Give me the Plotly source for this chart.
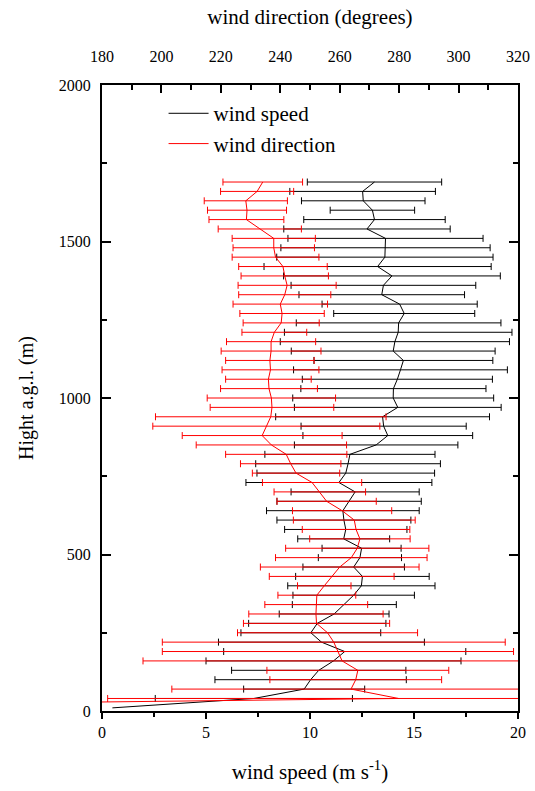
import plotly.graph_objects as go

# Heights (m a.g.l.)
heights = [10, 40, 70, 100, 130, 160, 190, 220, 250, 280, 310, 340, 370, 400, 430, 460, 490, 520,
           550, 580, 610, 640, 670, 700, 730, 760, 790, 820, 850, 880, 910, 940, 970, 1000, 1030,
           1060, 1090, 1120, 1150, 1180, 1210, 1240, 1270, 1300, 1330, 1360, 1390, 1420, 1450,
           1480, 1510, 1540, 1570, 1600, 1630, 1660, 1690]

# Wind speed (m/s) and its standard deviation
wind_speed = [0.5, 7.3, 9.72, 10.03, 10.42, 11.13, 11.67, 10.55, 10.04, 10.35, 11.16, 11.65, 12.1,
              12.47, 12.52, 12.1, 12.4, 12.48, 11.62, 11.72, 11.63, 11.58, 11.88, 12.17, 11.39,
              11.72, 11.83, 11.92, 13.18, 13.74, 13.54, 13.49, 14.22, 14.0, 14.01, 14.2, 14.35,
              14.49, 14.0, 14.08, 14.24, 14.26, 14.53, 14.31, 13.45, 13.53, 13.94, 13.25, 13.6,
              13.63, 13.63, 12.74, 13.1, 13.0, 12.56, 12.53, 13.1]
speed_err = [None, 4.74, 2.91, 4.6, 4.19, 6.13, 5.82, 4.95, 3.36, 3.3, 2.64, 2.5, 2.92, 3.54, 3.21,
             2.44, 2.0, 1.9, 2.21, 2.94, 3.22, 3.67, 3.47, 3.08, 4.47, 4.27, 4.44, 4.09, 3.93,
             4.08, 3.97, 5.14, 4.97, 4.83, 4.45, 4.57, 5.14, 4.3, 4.9, 5.51, 5.47, 4.92, 3.39,
             3.73, 3.98, 4.44, 5.21, 5.46, 5.2, 5.03, 4.69, 4.0, 3.4, 2.03, 2.97, 3.5, 3.23]

# Wind direction (degrees) and its standard deviation
wind_dir = [12, 279.8, 263.8, 265.4, 266.1, 260.8, 259.4, 258.0, 255.9, 252.2, 252.0, 252.1, 252.3,
            254.8, 257.3, 260.0, 263.9, 265.9, 266.8, 265.5, 264.9, 260.8, 255.6, 253.3, 250.7,
            245.3, 243.5, 242.0, 237.0, 233.9, 235.3, 236.8, 237.2, 237.0, 236.2, 236.0, 236.7,
            236.5, 236.9, 236.9, 238.0, 240.3, 240.6, 240.0, 241.5, 242.3, 241.5, 240.9, 238.4,
            237.8, 237.8, 233.1, 228.6, 228.8, 228.4, 232.2, 234.1]
dir_err = [None, 97.9, 60.3, 28.9, 30.6, 67.0, 59.1, 57.7, 30.3, 24.6, 22.6, 17.3, 13.1, 9.0, 21.0,
           26.7, 25.5, 24.1, 16.9, 18.1, 20.5, 16.7, 16.7, 15.4, 16.7, 14.7, 16.9, 20.4, 25.3,
           26.9, 38.2, 38.8, 20.8, 21.6, 16.3, 14.4, 16.3, 14.9, 16.8, 15.0, 10.9, 12.8, 14.2,
           15.9, 15.5, 16.5, 14.7, 14.9, 14.6, 13.7, 14.0, 14.0, 12.6, 13.3, 14.0, 12.3, 13.4]

speed_ticks = [0, 5, 10, 15, 20]
dir_ticks = [180, 200, 220, 240, 260, 280, 300, 320]
height_ticks = [0, 500, 1000, 1500, 2000]

FONT = "Liberation Serif"
fig = go.Figure()

# error bars (points with a measured spread only)
fig.add_trace(go.Scatter(
    x=wind_speed[1:], y=heights[1:], mode="markers", marker=dict(size=1, opacity=0, color="black"),
    error_x=dict(type="data", array=speed_err[1:], color="black", thickness=1, width=3.5),
    showlegend=False, hoverinfo="skip", xaxis="x", yaxis="y"))
fig.add_trace(go.Scatter(
    x=wind_dir[1:], y=heights[1:], mode="markers", marker=dict(size=1, opacity=0, color="red"),
    error_x=dict(type="data", array=dir_err[1:], color="red", thickness=1, width=3.5),
    showlegend=False, hoverinfo="skip", xaxis="x2", yaxis="y"))

# profile lines
fig.add_trace(go.Scatter(x=wind_speed, y=heights, mode="lines", name="wind speed",
                         line=dict(color="black", width=1), xaxis="x", yaxis="y"))
fig.add_trace(go.Scatter(x=wind_dir, y=heights, mode="lines", name="wind direction",
                         line=dict(color="red", width=1), xaxis="x2", yaxis="y"))

axis_common = dict(showgrid=False, zeroline=False, showline=True, linecolor="black", linewidth=2,
                   tickcolor="black", automargin=False,
                   tickfont=dict(family=FONT, size=16, color="black"))

fig.update_layout(
    width=535, height=791,
    margin=dict(l=102, r=17, t=85, b=80),
    paper_bgcolor="white", plot_bgcolor="white",
    font=dict(family=FONT, color="black"),
    xaxis=dict(range=[0, 20], tickvals=speed_ticks, ticks="outside", ticklen=6, tickwidth=1.5,
               minor=dict(dtick=2.5, ticks="outside", ticklen=4, tickwidth=1.5, tickcolor="black"),
               title=dict(text="wind speed (m s<sup>-1</sup>)", font=dict(family=FONT, size=21), standoff=24),
               **axis_common),
    xaxis2=dict(range=[180, 320], tickvals=dir_ticks, ticks="inside", ticklen=8, tickwidth=1.5,
                minor=dict(dtick=10, ticks="inside", ticklen=5, tickwidth=1.5, tickcolor="black"),
                side="top", overlaying="x", anchor="y", ticklabelstandoff=15,
                ticklabeloverflow="allow",
                title=dict(text="wind direction (degrees)", font=dict(family=FONT, size=21), standoff=17),
                **axis_common),
    yaxis=dict(range=[0, 2000], tickvals=height_ticks, ticks="inside", ticklen=9, tickwidth=1.5,
               mirror="ticks", ticklabelstandoff=6,
               minor=dict(dtick=250, ticks="inside", ticklen=5, tickwidth=1.5, tickcolor="black"),
               title=dict(text="Hight a.g.l. (m)", font=dict(family=FONT, size=20), standoff=20),
               **axis_common),
    legend=dict(x=0.148, y=0.987, xanchor="left", yanchor="top", bgcolor="rgba(0,0,0,0)",
                font=dict(family=FONT, size=21, color="black"), itemwidth=40),
    showlegend=True,
)

# remove the browser's default page margin so the 535x791 figure fills the window exactly
fig.write_html("out.html", config={"displayModeBar": False},
               post_script="document.body.style.margin='0';document.body.style.overflow='hidden';")
